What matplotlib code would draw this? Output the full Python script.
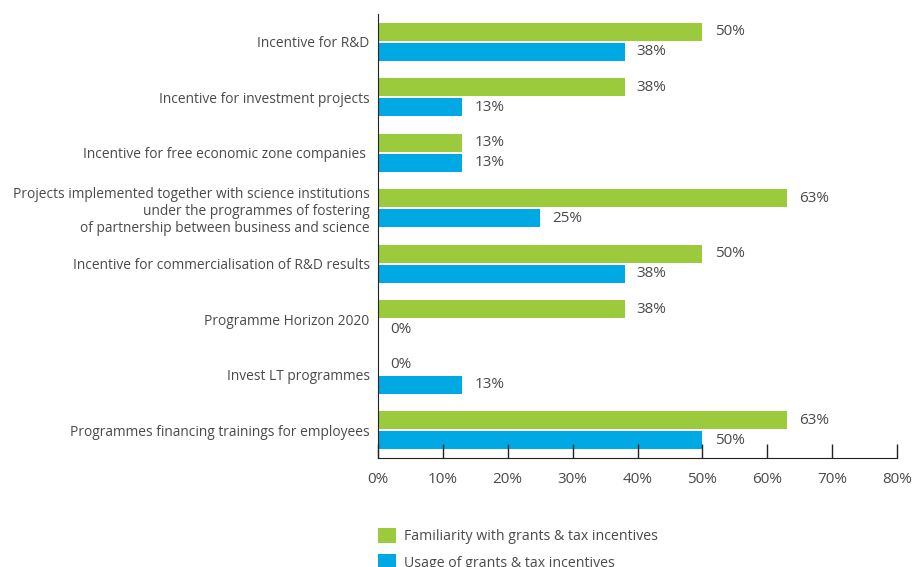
import matplotlib.pyplot as plt
import numpy as np

categories = [
    'Incentive for R&D',
    'Incentive for investment projects',
    'Incentive for free economic zone companies ',
    'Projects implemented together with science institutions\n'
    'under the programmes of fostering\n'
    'of partnership between business and science',
    'Incentive for commercialisation of R&D results',
    'Programme Horizon 2020',
    'Invest LT programmes',
    'Programmes financing trainings for employees',
]
familiarity = [50, 38, 13, 63, 50, 38, 0, 63]
usage = [38, 13, 13, 25, 38, 0, 13, 50]
series_names = ['Familiarity with grants & tax incentives',
                'Usage of grants & tax incentives']
xticks = [0, 10, 20, 30, 40, 50, 60, 70, 80]

green = '#9BCB3C'
blue = '#00A9E3'
grey = '#4a4a4a'

plt.rcParams['font.family'] = ['Open Sans', 'DejaVu Sans']
plt.rcParams['font.size'] = 9.9

fig = plt.figure(figsize=(9.2, 5.67), dpi=100)
ax = fig.add_axes([378/920, 1 - 458/567, 519/920, 444/567])

y = np.arange(len(categories))
h = 0.32
ax.barh(y - 0.18, familiarity, height=h, color=green, label=series_names[0])
ax.barh(y + 0.18, usage, height=h, color=blue, label=series_names[1])

# value labels just past the end of each bar
for yi, v in zip(y, familiarity):
    ax.text(v + 1.9, yi - 0.18, f'{v}%', va='center', ha='left', color=grey, fontsize=11)
for yi, v in zip(y, usage):
    ax.text(v + 1.9, yi + 0.18, f'{v}%', va='center', ha='left', color=grey, fontsize=11)

ax.set_ylim(len(categories) - 0.5, -0.5)
ax.set_xlim(0, 80)
ax.set_yticks(y)
ax.set_yticklabels(categories, color=grey, linespacing=1.2)
ax.set_xticks(xticks)
ax.set_xticklabels([f'{t}%' for t in xticks], color=grey, fontsize=11)
ax.tick_params(axis='y', length=0, pad=6)
ax.tick_params(axis='x', direction='in', length=10, width=1, color='#222222', pad=10)
for s in ['top', 'right']:
    ax.spines[s].set_visible(False)
ax.spines['left'].set_color('#222222')
ax.spines['bottom'].set_color('#222222')

fig.legend(loc='upper left', bbox_to_anchor=(365/920, 1 - 515/567), frameon=False,
           handlelength=1.3, handleheight=1.3, handletextpad=0.55, labelspacing=0.7,
           labelcolor=grey, fontsize=10.2)

fig.savefig('out.png', dpi=100)
